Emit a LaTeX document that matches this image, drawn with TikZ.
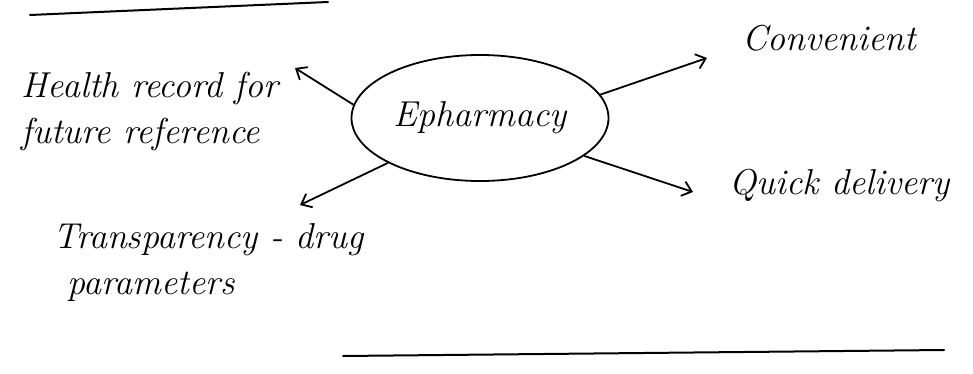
\documentclass[tikz,border=0pt]{standalone}
\usetikzlibrary{shapes.geometric,arrows.meta}

\begin{document}
\begin{tikzpicture}[x=1pt,y=-1pt,
    hand/.style={font=\fontsize{36}{46}\selectfont\itshape},
    branch/.style={-{Straight Barb[length=9pt,width=15pt]},line width=1.8pt},
    rule/.style={line width=2pt,line cap=round}]
  \useasboundingbox (0,0) rectangle (973,374);
  % centre
  \node[draw,ellipse,line width=1.8pt,minimum width=257pt,minimum height=126pt,
        hand] (ep) at (480,118) {Epharmacy};
  % labels round it
  \node[hand,align=left] (hr) at (150,112) {Health record for\\future reference};
  \node[hand] (cv) at (829,38) {Convenient};
  \node[hand,anchor=west] (qd) at (726,185) {Quick delivery};
  \node[hand,align=left,anchor=north west] (tr) at (50,220)
    {Transparency - drug\\\hspace{14pt}parameters};
  % arrow ends
  \coordinate (hrtip) at (295,68);
  \coordinate (cvtip) at (707,58);
  \coordinate (qdtip) at (693,192);
  \coordinate (trtip) at (300,205);
  \foreach \a/\t in {174/hrtip, 11/cvtip, 340/qdtip, 206/trtip}
    \draw[branch] (ep.\a) -- (\t);
  % ruled lines of the page
  \draw[rule] (30,15) -- (328,2);
  \draw[rule] (343,356) -- (944,350);
\end{tikzpicture}
\end{document}
